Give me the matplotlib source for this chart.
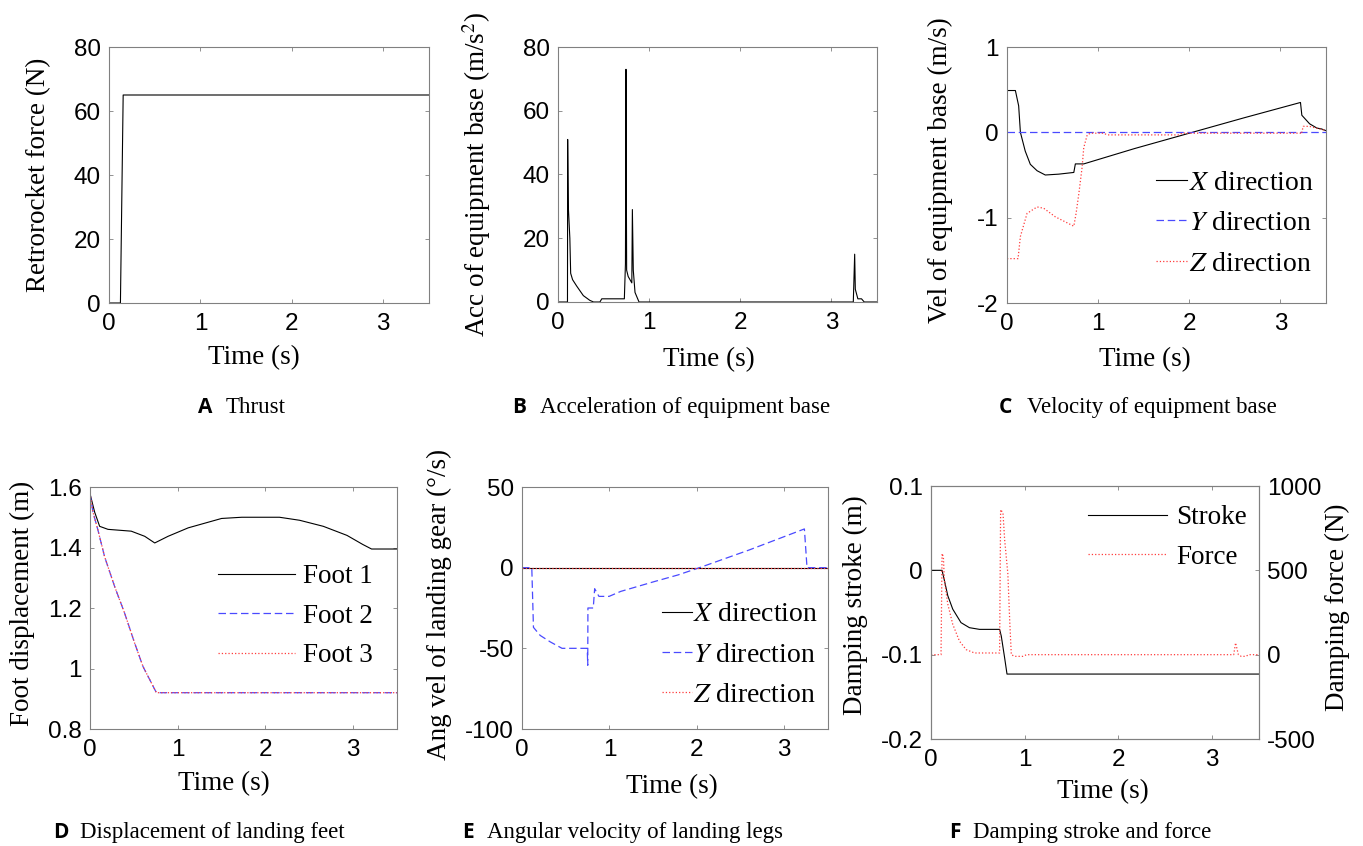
import matplotlib
matplotlib.use('Agg')
import matplotlib.pyplot as plt

plt.rcParams['axes.unicode_minus'] = False
plt.rcParams['mathtext.fontset'] = 'stix'

W, H = 1363, 846
SANS = 'Liberation Sans'
SERIF = 'Liberation Serif'
GREY = '#808080'
BLUE = '#4a4aff'
RED = '#ff3b3b'
TICK_SIZE = 17.5
LABEL_SIZE = 19.5

# A: thrust
t_thrust = [0, 0.125, 0.155, 3.5]
f_thrust = [0, 0, 65, 65]

# B: acceleration of equipment base
t_acc = [0, 0.104, 0.106, 0.113, 0.13, 0.139, 0.16, 0.205, 0.278, 0.35, 0.39, 0.46, 0.48,
         0.728, 0.740, 0.746, 0.748, 0.753, 0.77, 0.81, 0.816, 0.826, 0.845, 0.889,
         3.24, 3.255, 3.262, 3.29, 3.33, 3.36, 3.5]
a_acc = [0, 0, 51, 30, 20, 9, 7, 5, 2, 0.5, 0, 0, 1,
         1, 12, 73, 52, 10, 8, 6, 29, 10, 3, 0,
         0, 15, 4, 1, 1, 0, 0]

# C: velocity of equipment base
t_vx = [0, 0.092, 0.128, 0.147, 0.2, 0.256, 0.33, 0.42, 0.568, 0.733, 0.75, 0.842,
        1.4, 2.0, 2.6, 3.22, 3.235, 3.32, 3.40, 3.45, 3.5]
v_x = [0.49, 0.49, 0.31, 0.0, -0.22, -0.375, -0.45, -0.5, -0.49, -0.47, -0.37, -0.37,
       -0.19, -0.01, 0.17, 0.35, 0.2, 0.1, 0.05, 0.04, 0.02]
t_vy = [0, 3.5]
v_y = [0, 0]
t_vz = [0, 0.121, 0.147, 0.22, 0.33, 0.403, 0.53, 0.733, 0.758, 0.788, 0.824, 0.842,
        0.88, 0.916, 1.06, 1.1, 1.89, 1.92, 3.22, 3.23, 3.25, 3.32, 3.5]
v_z = [-1.48, -1.48, -1.22, -0.95, -0.874, -0.89, -0.99, -1.10, -0.95, -0.72, -0.41, -0.18,
       -0.03, -0.01, -0.01, -0.03, -0.03, -0.01, -0.01, -0.02, 0.07, 0.07, 0.02]

# D: displacement of landing feet
t_f1 = [0, 0.053, 0.11, 0.205, 0.47, 0.624, 0.738, 0.89, 1.12, 1.5, 1.73,
        2.16, 2.39, 2.66, 2.93, 3.11, 3.21, 3.5]
d_f1 = [1.578, 1.517, 1.47, 1.46, 1.454, 1.437, 1.415, 1.437, 1.465, 1.496, 1.50,
        1.50, 1.49, 1.47, 1.44, 1.41, 1.395, 1.395]
t_f2 = [0, 0.034, 0.091, 0.167, 0.282, 0.396, 0.51, 0.605, 0.757, 3.5]
d_f2 = [1.578, 1.517, 1.457, 1.369, 1.27, 1.182, 1.083, 1.006, 0.92, 0.92]
d_f3 = [1.578, 1.517, 1.457, 1.369, 1.27, 1.182, 1.083, 1.006, 0.92, 0.92]

# E: angular velocity of landing legs
t_wx = [0, 3.5]
w_x = [0, 0]
t_wy = [0, 0.112, 0.131, 0.208, 0.323, 0.458, 0.746, 0.752, 0.754, 0.815, 0.831, 0.88,
        0.996, 1.13, 1.515, 1.785, 2.03, 2.6, 3.23, 3.26, 3.5]
w_y = [0, 0, -37, -42, -46, -50, -50, -60.5, -25, -25, -13, -17.8,
       -17.8, -14.7, -8.6, -4.5, 0, 11, 24, 0, 0]
t_wz = [0, 3.5]
w_z = [0, 0]

# F: damping stroke and force
t_stroke = [0, 0.118, 0.143, 0.179, 0.232, 0.32, 0.41, 0.518, 0.732, 0.75, 0.786, 0.811, 3.5]
stroke = [0, 0, -0.012, -0.03, -0.046, -0.062, -0.068, -0.07, -0.07, -0.078, -0.104,
          -0.123, -0.123]
t_force = [0, 0.107, 0.118, 0.132, 0.143, 0.179, 0.232, 0.304, 0.375, 0.464, 0.732, 0.743,
           0.768, 0.786, 0.82, 0.84, 0.857, 0.893, 0.98, 1.02, 3.23, 3.25, 3.28, 3.31, 3.36,
           3.39, 3.5]
force = [0, 0, 600, 580, 440, 300, 180, 80, 30, 10, 10, 860,
         840, 680, 480, 200, 0, -10, -10, 0, 0, 70, 0, -10, -10,
         0, 0]


def make_axes(fig, x0, y0, x1, y1):
    return fig.add_axes([x0 / W, (H - y1) / H, (x1 - x0) / W, (y1 - y0) / H])


def style(ax, xlab_x, xlab_y, ylab, ylab_x, ylab_y, right=True):
    for s in ax.spines.values():
        s.set_color(GREY)
        s.set_linewidth(0.8)
    ax.tick_params(direction='in', length=3, width=0.6, color=GREY,
                   top=True, right=right, labelsize=TICK_SIZE, pad=6)
    ax.tick_params(axis='x', pad=7)
    for lab in ax.get_xticklabels() + ax.get_yticklabels():
        lab.set_fontfamily(SANS)
    ax.set_xlabel('Time (s)', fontsize=LABEL_SIZE, fontfamily=SERIF)
    ax.xaxis.set_label_coords(xlab_x, xlab_y)
    ax.set_ylabel(ylab, fontsize=LABEL_SIZE, fontfamily=SERIF)
    ax.yaxis.set_label_coords(ylab_x, ylab_y)
    ax.set_xlim(0, 3.5)
    ax.set_xticks([0, 1, 2, 3])


def caption(fig, letter_x, text_x, base_y, letter, text):
    fig.text(letter_x / W, 1 - base_y / H, letter, fontsize=15, fontweight='bold',
             fontfamily='Open Sans', va='baseline')
    fig.text(text_x / W, 1 - base_y / H, text, fontsize=16.5, fontfamily=SERIF,
             va='baseline')


def legend(ax, handles, labels, x, y, size, hlen, pad, spacing):
    leg = ax.legend(handles, labels, loc='center left', bbox_to_anchor=(x, y),
                    frameon=False, borderpad=0, borderaxespad=0,
                    handlelength=hlen, handletextpad=pad, labelspacing=spacing,
                    prop={'family': SERIF, 'size': size})
    return leg


fig = plt.figure(figsize=(W / 100, H / 100), dpi=100)

# A
ax = make_axes(fig, 109, 47, 429, 303)
ax.plot(t_thrust, f_thrust, color='k', lw=0.8)
ax.set_ylim(0, 80)
ax.set_yticks([0, 20, 40, 60, 80])
style(ax, 0.453, -0.165, 'Retrorocket force (N)', -0.181, 0.5)
caption(fig, 198, 226, 413, 'A', 'Thrust')

# B
ax = make_axes(fig, 558, 47, 877, 302)
ax.plot(t_acc, a_acc, color='k', lw=0.8)
ax.set_ylim(0, 80)
ax.set_yticks([0, 20, 40, 60, 80])
style(ax, 0.473, -0.175, 'Acc of equipment base (m/s$^2$)', -0.204, 0.5)
caption(fig, 512, 540, 413, 'B', 'Acceleration of equipment base')

# C
ax = make_axes(fig, 1007, 47, 1326, 303)
lx, = ax.plot(t_vx, v_x, color='k', lw=0.8)
ly, = ax.plot(t_vy, v_y, color=BLUE, lw=0.9, dashes=(6, 3))
lz, = ax.plot(t_vz, v_z, color=RED, lw=0.9, ls=':')
ax.set_ylim(-2, 1)
ax.set_yticks([-2, -1, 0, 1])
style(ax, 0.433, -0.172, 'Vel of equipment base (m/s)', -0.169, 0.52)
legend(ax, [lx, ly, lz], ['$X$ direction', '$Y$ direction', '$Z$ direction'],
       0.467, 0.311, 20, 1.1, 0.1, 0.54)
caption(fig, 999, 1027, 413, 'C', 'Velocity of equipment base')

# D
ax = make_axes(fig, 90, 487, 397, 729)
l1, = ax.plot(t_f1, d_f1, color='k', lw=0.8)
l2, = ax.plot(t_f2, d_f2, color=BLUE, lw=0.9, dashes=(6, 3))
l3, = ax.plot(t_f2, d_f3, color=RED, lw=0.9, ls=':')
ax.set_ylim(0.8, 1.6)
ax.set_yticks([0.8, 1.0, 1.2, 1.4, 1.6])
ax.set_yticklabels(['0.8', '1', '1.2', '1.4', '1.6'])
style(ax, 0.436, -0.175, 'Foot displacement (m)', -0.179, 0.52)
legend(ax, [l1, l2, l3], ['Foot 1', 'Foot 2', 'Foot 3'],
       0.417, 0.466, 19.5, 2.85, 0.3, 0.54)
caption(fig, 53, 80, 838, 'D', 'Displacement of landing feet')

# E
ax = make_axes(fig, 522, 487, 828, 729)
ex, = ax.plot(t_wx, w_x, color='k', lw=0.8)
ey, = ax.plot(t_wy, w_y, color=BLUE, lw=0.9, dashes=(6, 3))
ez, = ax.plot(t_wz, w_z, color=RED, lw=0.9, ls=':')
ax.set_ylim(-100, 50)
ax.set_yticks([-100, -50, 0, 50])
style(ax, 0.489, -0.185, 'Ang vel of landing gear (°/s)', -0.228, 0.515)
legend(ax, [ex, ey, ez], ['$X$ direction', '$Y$ direction', '$Z$ direction'],
       0.459, 0.306, 20, 1.05, 0.05, 0.54)
caption(fig, 462, 487, 838, 'E', 'Angular velocity of landing legs')

# F
ax = make_axes(fig, 931, 486, 1259, 739)
ls_, = ax.plot(t_stroke, stroke, color='k', lw=0.8)
ax.set_ylim(-0.2, 0.1)
ax.set_yticks([-0.2, -0.1, 0, 0.1])
ax.set_yticklabels(['-0.2', '-0.1', '0', '0.1'])
style(ax, 0.524, -0.158, 'Damping stroke (m)', -0.192, 0.53, right=False)
ax2 = ax.twinx()
lf, = ax2.plot(t_force, force, color=RED, lw=0.9, ls=':')
ax2.set_ylim(-500, 1000)
ax2.set_yticks([-500, 0, 500, 1000])
for s in ax2.spines.values():
    s.set_color(GREY)
    s.set_linewidth(0.8)
ax2.tick_params(direction='in', length=3, width=0.6, color=GREY, labelsize=TICK_SIZE, pad=6)
for lab in ax2.get_yticklabels():
    lab.set_fontfamily(SANS)
ax2.set_ylabel('Damping force (N)', fontsize=LABEL_SIZE, fontfamily=SERIF)
ax2.yaxis.set_label_coords(1.201, 0.52)
legend(ax2, [ls_, lf], ['Stroke', 'Force'], 0.479, 0.796, 19.5, 2.9, 0.35, 0.54)
caption(fig, 949, 973, 838, 'F', 'Damping stroke and force')

fig.savefig('out.png', dpi=100)
